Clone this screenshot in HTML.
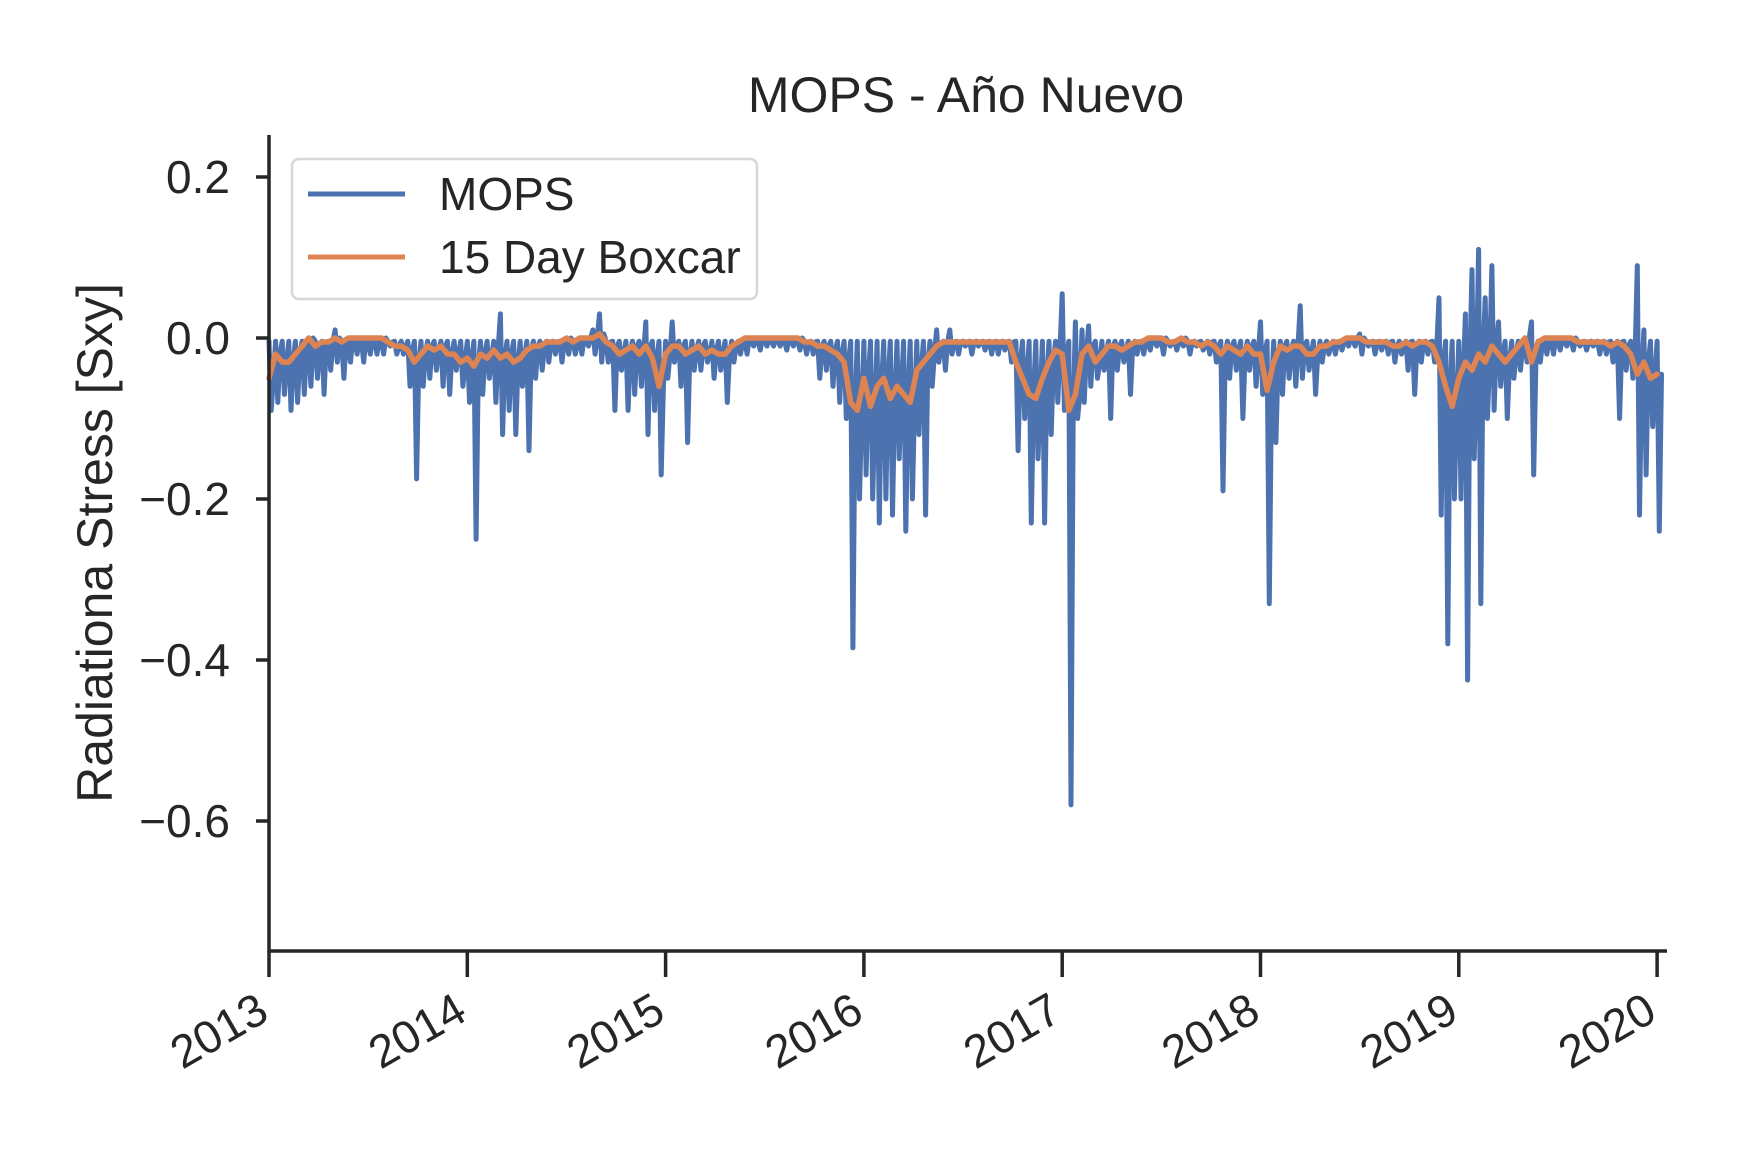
<!DOCTYPE html>
<html><head><meta charset="utf-8"><style>
html,body{margin:0;padding:0;background:#fff;}
svg{display:block;font-family:"Liberation Sans",sans-serif;}
</style></head><body>
<svg id="chart" width="1738" height="1153" viewBox="0 0 1738 1153" xmlns="http://www.w3.org/2000/svg">
<rect width="1738" height="1153" fill="#fff"/>
<text x="966" y="112" font-size="50" text-anchor="middle" fill="#262626">MOPS - Año Nuevo</text>
<text x="0" y="0" font-size="50" text-anchor="middle" fill="#262626" transform="translate(112,543) rotate(-90)">Radiationa Stress [Sxy]</text>
<g id="plot"></g>
<g id="axes"></g>
<g>
<rect x="292" y="159" width="465" height="140" rx="7" fill="#fff" fill-opacity="0.8" stroke="#d6d6d6" stroke-width="2.5"/>
<line x1="308" y1="194" x2="405" y2="194" stroke="#4c72b0" stroke-width="5"/>
<text x="439" y="210" font-size="46" fill="#262626">MOPS</text>
<line x1="308" y1="257" x2="405" y2="257" stroke="#dd8452" stroke-width="5"/>
<text x="439" y="273" font-size="46" fill="#262626">15 Day Boxcar</text>
</g>
</svg>
<script>
// ---- data ----
const startYear = 2013;
const binsPerYear = 30;
const mopsLow = [
-0.09,-0.08,-0.07,-0.09,-0.08,-0.07,-0.06,-0.05,-0.07,-0.04,-0.03,-0.05,-0.03,-0.02,-0.03,-0.02,-0.02,-0.02,-0.01,-0.02,-0.02,-0.06,-0.175,-0.06,-0.05,-0.04,-0.06,-0.07,-0.04,-0.06,
-0.08,-0.25,-0.07,-0.05,-0.08,-0.12,-0.09,-0.12,-0.06,-0.14,-0.05,-0.04,-0.03,-0.02,-0.03,-0.02,-0.02,-0.02,-0.01,-0.02,-0.03,-0.03,-0.09,-0.04,-0.09,-0.07,-0.06,-0.12,-0.09,-0.17,
-0.05,-0.03,-0.06,-0.13,-0.04,-0.04,-0.03,-0.05,-0.04,-0.08,-0.03,-0.02,-0.02,-0.01,-0.015,-0.01,-0.01,-0.01,-0.015,-0.01,-0.015,-0.02,-0.02,-0.05,-0.04,-0.06,-0.08,-0.1,-0.385,-0.2,
-0.17,-0.2,-0.23,-0.2,-0.22,-0.15,-0.24,-0.2,-0.12,-0.22,-0.06,-0.03,-0.04,-0.02,-0.02,-0.01,-0.02,-0.01,-0.015,-0.02,-0.02,-0.015,-0.03,-0.14,-0.1,-0.23,-0.15,-0.23,-0.12,-0.08,
-0.09,-0.58,-0.1,-0.08,-0.06,-0.05,-0.04,-0.1,-0.04,-0.03,-0.07,-0.02,-0.02,-0.015,-0.01,-0.02,-0.01,-0.015,-0.01,-0.02,-0.01,-0.015,-0.02,-0.03,-0.19,-0.05,-0.04,-0.1,-0.04,-0.06,
-0.07,-0.33,-0.13,-0.07,-0.05,-0.06,-0.05,-0.04,-0.07,-0.03,-0.02,-0.02,-0.015,-0.01,-0.01,-0.02,-0.01,-0.02,-0.015,-0.02,-0.03,-0.02,-0.04,-0.07,-0.03,-0.02,-0.03,-0.22,-0.38,-0.2,
-0.2,-0.425,-0.15,-0.33,-0.1,-0.09,-0.06,-0.1,-0.05,-0.04,-0.03,-0.17,-0.03,-0.02,-0.02,-0.015,-0.01,-0.015,-0.01,-0.015,-0.01,-0.02,-0.02,-0.03,-0.1,-0.04,-0.05,-0.22,-0.17,-0.11,
-0.24];
const mopsPeakBins = [10,35,49,50,57,61,101,103,120,122,123,124,150,156,165,177,181,182,183,184,185,186,191,207,208];
const mopsPeakValues = [0.01,0.03,0.01,0.03,0.02,0.02,0.01,0.01,0.055,0.02,0.01,0.015,0.02,0.04,0.005,0.05,0.03,0.085,0.11,0.05,0.09,0.02,0.02,0.09,0.01];
const boxcar = [
-0.05,-0.02,-0.03,-0.03,-0.02,-0.01,0.0,-0.01,-0.005,-0.005,0.0,-0.005,0.0,0.0,0.0,0.0,0.0,0.0,-0.005,-0.01,-0.01,-0.015,-0.03,-0.02,-0.01,-0.015,-0.01,-0.02,-0.02,-0.03,
-0.025,-0.035,-0.02,-0.025,-0.015,-0.025,-0.02,-0.03,-0.025,-0.015,-0.01,-0.01,-0.005,-0.005,-0.005,0.0,-0.005,0.0,0.0,0.0,0.005,-0.005,-0.01,-0.02,-0.015,-0.01,-0.02,-0.01,-0.025,-0.06,
-0.02,-0.01,-0.01,-0.02,-0.015,-0.01,-0.02,-0.015,-0.02,-0.02,-0.01,-0.005,0.0,0.0,0.0,0.0,0.0,0.0,0.0,0.0,0.0,-0.005,-0.005,-0.01,-0.01,-0.015,-0.02,-0.03,-0.08,-0.09,
-0.05,-0.085,-0.06,-0.05,-0.075,-0.06,-0.07,-0.08,-0.04,-0.03,-0.02,-0.01,-0.005,-0.005,-0.005,-0.005,-0.005,-0.005,-0.005,-0.005,-0.005,-0.005,-0.005,-0.03,-0.05,-0.07,-0.075,-0.05,-0.03,-0.015,
-0.02,-0.09,-0.07,-0.02,-0.01,-0.03,-0.02,-0.01,-0.01,-0.015,-0.01,-0.005,-0.005,0.0,0.0,0.0,-0.005,-0.005,0.0,-0.005,-0.005,-0.01,-0.005,-0.01,-0.02,-0.01,-0.015,-0.02,-0.01,-0.02,
-0.02,-0.065,-0.03,-0.01,-0.015,-0.01,-0.01,-0.02,-0.02,-0.01,-0.01,-0.005,-0.005,0.0,0.0,0.0,-0.005,-0.005,-0.005,-0.005,-0.01,-0.01,-0.005,-0.01,-0.005,-0.005,-0.01,-0.03,-0.06,-0.085,
-0.05,-0.03,-0.04,-0.02,-0.03,-0.01,-0.02,-0.03,-0.02,-0.01,0.0,-0.03,-0.005,0.0,0.0,0.0,0.0,0.0,-0.005,-0.005,-0.005,-0.005,-0.005,-0.01,-0.005,-0.01,-0.02,-0.045,-0.03,-0.05,
-0.045];
const yTicks = [0.2, 0.0, -0.2, -0.4, -0.6];
const yTickLabels = ["0.2", "0.0", "\u22120.2", "\u22120.4", "\u22120.6"];
const xTicks = [2013, 2014, 2015, 2016, 2017, 2018, 2019, 2020];
const xTickLabels = ["2013", "2014", "2015", "2016", "2017", "2018", "2019", "2020"];

// ---- axes ----
const X0 = 269, X1 = 1667, YTOP = 135, YBOT = 951;
const yearPx = 198.3;
function xScale(yr){ return X0 + (yr - 2013) * yearPx; }
function yScale(v){ return 338 - v * 805; }
const NS = "http://www.w3.org/2000/svg";
function mk(tag, attrs, parent){ const e = document.createElementNS(NS, tag); for (const k in attrs) e.setAttribute(k, attrs[k]); parent.appendChild(e); return e; }
const plot = document.getElementById('plot');
const axes = document.getElementById('axes');

// MOPS series: zigzag high -> low -> running level within each bin
const peak = {};
mopsPeakBins.forEach((b, i) => { peak[b] = mopsPeakValues[i]; });
let pts = [];
mopsLow.forEach((lo, i) => {
  const t = startYear + i / binsPerYear;
  const hi = (i in peak) ? peak[i] : -0.004;
  const mid = boxcar[i];
  const x = xScale(t);
  pts.push(x.toFixed(1) + ',' + yScale(hi).toFixed(1));
  pts.push((x + 2.2).toFixed(1) + ',' + yScale(lo).toFixed(1));
  pts.push((x + 4.4).toFixed(1) + ',' + yScale(mid).toFixed(1));
});
const mopsLine = mk('polyline', {points: pts.join(' '), fill: 'none', stroke: '#4c72b0', 'stroke-width': 5, 'stroke-linejoin': 'round', 'stroke-linecap': 'round'}, plot);



const bpts = boxcar.map((v, i) => xScale(startYear + i / binsPerYear).toFixed(1) + ',' + yScale(v).toFixed(1));
const boxLine = mk('polyline', {points: bpts.join(' '), fill: 'none', stroke: '#dd8452', 'stroke-width': 5.5, 'stroke-linejoin': 'round', 'stroke-linecap': 'round'}, plot);



// spines
const ly = mk('line', {x1: X0, y1: YTOP, x2: X0, y2: YBOT + 1.5, stroke: '#262626', 'stroke-width': 3.5}, axes);


const lx = mk('line', {x1: X0 - 1.5, y1: YBOT, x2: X1, y2: YBOT, stroke: '#262626', 'stroke-width': 3.5}, axes);



yTicks.forEach((v, i) => {
  const y = yScale(v);
  const tk = mk('line', {x1: X0 - 13, y1: y, x2: X0, y2: y, stroke: '#262626', 'stroke-width': 3.5}, axes);
  
  
  const tx = mk('text', {x: 230, y: y + 16, 'font-size': 46, 'text-anchor': 'end', fill: '#262626'}, axes);
  tx.textContent = yTickLabels[i];
  
  
});
xTicks.forEach((yr, i) => {
  const x = xScale(yr);
  const tk = mk('line', {x1: x, y1: YBOT, x2: x, y2: YBOT + 26, stroke: '#262626', 'stroke-width': 3.5}, axes);
  
  
  const tx = mk('text', {x: 0, y: 0, 'font-size': 46, 'text-anchor': 'end', fill: '#262626', transform: 'translate(' + (x - 14) + ',' + (YBOT + 40) + ') rotate(-30) translate(0,32)'}, axes);
  tx.textContent = xTickLabels[i];
  
  
});
</script>
</body></html>
